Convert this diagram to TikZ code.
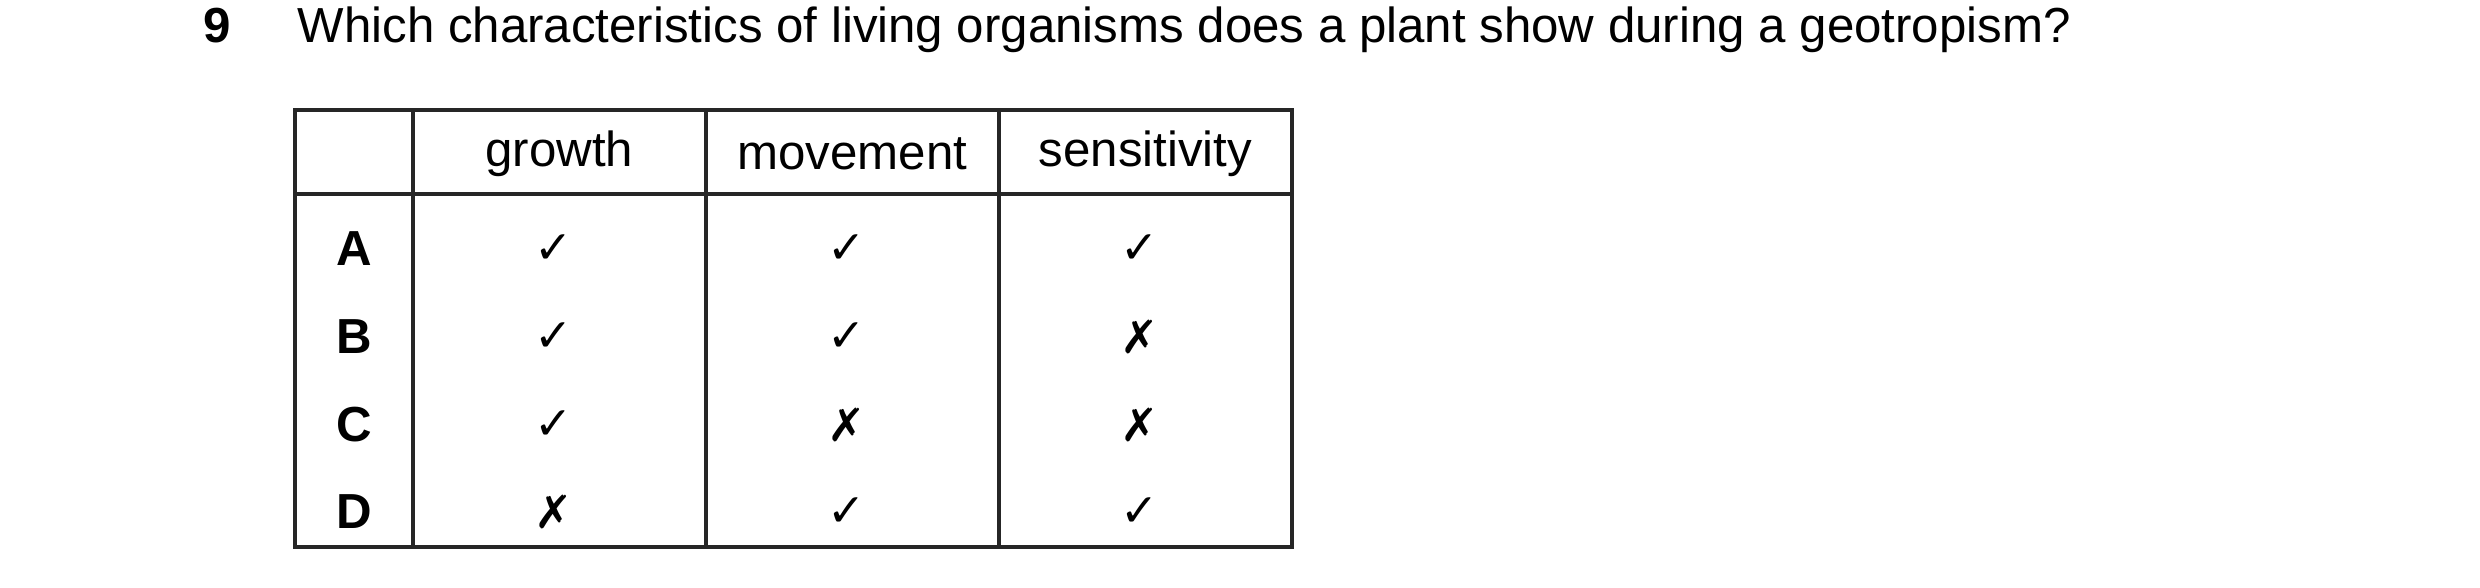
\documentclass[tikz,border=0pt]{standalone}
\usepackage{fontspec}
\setmainfont{Liberation Sans}
\newfontfamily\symfont{DejaVu Sans}
\begin{document}
\begin{tikzpicture}[x=0.01cm,y=-0.01cm]
\tikzstyle{txt}=[font=\fontsize{14}{16}\selectfont, inner sep=0pt]
\tikzstyle{lbl}=[txt, font=\fontsize{14}{16}\selectfont\bfseries]
\tikzstyle{tick}=[inner sep=0pt, font=\fontsize{13}{15}\selectfont\symfont]
\tikzstyle{rule}=[line width=0.9pt, draw=black!85]
\useasboundingbox (0,0) rectangle (2480,587);
\node[lbl, anchor=base] (qnum) at (217,42) {9};
\node[txt, anchor=base west] (qtext) at (297,42) {Which characteristics of living organisms does a plant show during a geotropism?};
% table frame
\draw[rule] (295,110) rectangle (1292,547);
\draw[rule] (295,194) -- (1292,194);
\foreach \x in {413,706,999}
  \draw[rule] (\x,110) -- (\x,547);
% header
\node[txt] (hgrowth) at (559.5,154) {growth};
\node[txt] (hmove) at (852.5,154) {movement};
\node[txt] (hsens) at (1145.5,154) {sensitivity};
% rows
\foreach \r/\y/\a/\b/\c in {A/249/✓/✓/✓, B/337/✓/✓/✗, C/425/✓/✗/✗, D/512/✗/✓/✓}{
  \node[lbl] (row\r) at (354,\y) {\r};
  \node[tick] (g\r) at (554,\y) {\a};
  \node[tick] (m\r) at (847,\y) {\b};
  \node[tick] (s\r) at (1140,\y) {\c};
}
\end{tikzpicture}
\end{document}
